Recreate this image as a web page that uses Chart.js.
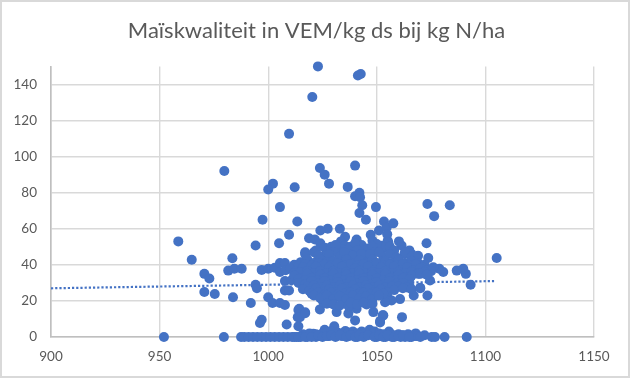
<!DOCTYPE html>
<html>
<head>
<meta charset="utf-8">
<style>
    html, body { margin: 0; padding: 0; background: #ffffff; }
    #frame { position: absolute; left: 0; top: 0; width: 630px; height: 378px; box-sizing: border-box; border: 2px solid #d9d9d9; }
    #maisChart { position: absolute; left: 0; top: 0; }
</style>
<script src="https://cdn.jsdelivr.net/npm/chart.js@4"></script>
</head>
<body>
<div id="frame"></div>
<canvas id="maisChart" width="633" height="381"></canvas>
<script>
const chartTitle = "Maïskwaliteit in VEM/kg ds bij kg N/ha";
const xTicks = [900, 950, 1000, 1050, 1100, 1150];
const yTicks = [0, 20, 40, 60, 80, 100, 120, 140];

// losse punten boven en rond de wolk
const outlierX = [1022.9, 1042.6, 1041.3, 1020.3, 1009.6, 979.8, 1023.8, 1026, 1028, 1040, 1036.6, 1002.2, 1000, 1012.2, 1042, 1040, 1042.3, 1043.3, 1042, 1045, 1049.6, 1005.4, 997.4, 1013.4, 1053.3, 1051, 1054.6, 1033, 1027.4, 1024, 1009.6, 1005, 1018.8, 1021.5, 1024, 1035.4, 1033.5, 1035.4, 1040.7, 1047.2, 1048, 1017, 1022, 1030.7, 1042.3, 1052.3, 1055];
const outlierY = [150, 145.8, 145, 133, 112.6, 92, 93.7, 90, 85, 95, 83.2, 85, 81.8, 83, 80, 78, 77.5, 73, 68.7, 65, 72, 72, 65, 64, 64, 59, 60.8, 60, 60, 59, 56.7, 52, 54.7, 54, 52, 55.6, 53, 50.6, 54, 56.7, 53.4, 47, 48, 48.3, 49, 50.6, 53.4];

const leftX = [958.6, 964.8, 970.6, 972.9, 970.6, 975.4, 983.5, 981.6, 984.4, 987.8, 983.8, 992, 994.2, 994.2, 994.8, 997, 996.2, 1000, 1002, 1005.4, 1007.7, 1008.5, 1013.9, 1013.6, 1013.9, 1017, 997, 1000, 1003, 1005.4, 1007.7, 1005.4, 1008, 1007.7, 1010.7, 1007.7, 1009.6, 1014.3, 1014.6, 1017];
const leftY = [53, 42.8, 35, 32.4, 24.9, 23.8, 43.7, 36.8, 37.8, 37.8, 22, 18.8, 50.7, 29, 27, 9.6, 7.8, 22, 18.8, 18.8, 17.7, 6.9, 6, 11, 15, 13.7, 37.2, 37.8, 38.4, 41, 41, 36, 37, 31, 31.5, 25.8, 25.8, 15.7, 11, 13.2];

const rightX = [1073.3, 1083.6, 1076.4, 1105.2, 1072.9, 1073.7, 1093.2, 1091, 1089.8, 1086.8, 1080.6, 1078.8, 1076, 1074.5, 1073.3, 1067, 1070, 1060.7, 1055, 1056.8, 1053.8, 1061.6, 1053, 1051.5, 1066, 1065, 1061.4, 1060.2, 1062.7, 1057.6, 1054.8, 1055.3, 1051.5, 1053.8, 1023.8, 1031.5, 1036.9, 1040, 1040.7, 1048.4, 1052.7, 1051.5, 1045.3, 1025.4, 1034.6];
const rightY = [73.7, 73, 67, 43.8, 52, 43.8, 29, 35, 37.8, 36.8, 36, 37.8, 38.6, 31.3, 23, 23, 27.3, 21, 22, 20.3, 19.3, 11, 12, 8.8, 46, 48, 50.7, 53, 46, 63, 57, 52.5, 48, 49.7, 15.3, 13.8, 13, 9.2, 15.7, 13.8, 12, 8, 18, 19.3, 19.3];

// onderste rij: kwaliteit nul of bijna nul
const zeroX = [952, 979.6, 987.5, 989, 991, 993, 995, 997, 999, 1001, 1003, 1005, 1007, 1009, 1011, 1013, 1015, 1016, 1018, 1020.8, 1022, 1024, 1026, 1028, 1030.4, 1032, 1034, 1035.5, 1037, 1039, 1041, 1043, 1045, 1046.7, 1048, 1050, 1052, 1054, 1055.6, 1057, 1059, 1061, 1063, 1064.4, 1066, 1067.9, 1072, 1075.3, 1076.8, 1081.2, 1091.4];
const zeroY = [0, 0, 0, 0, 0, 0, 0, 0, 0, 0, 0, 0, 0, 0, 0, 0, 0, 1.5, 0, 1.8, 0, 0.5, 4, 0.5, 6, 1, 0.5, 3.3, 0.5, 1, 0, 3, 2, 4, 1, 0, 0.5, 0, 3, 0, 0.5, 0, 0, 1.5, 0, 2, 1, 0, 0, 0, 0];
const lowX = [1017, 1019, 1022, 1025, 1027, 1029, 1032, 1034, 1037, 1039, 1041, 1044, 1047, 1049, 1051, 1053, 1056, 1058, 1060, 1062, 1065, 1068];
const lowY = [1, 2, 1.5, 2, 2.5, 3, 2.5, 2, 2.5, 3, 2, 2.5, 3, 3, 2, 1.5, 2, 1, 1.5, 1, 1, 0.5];
const fillX = [1012, 1014, 1017, 1020, 1023, 1025, 1027, 1029, 1031, 1033, 1036, 1038, 1040, 1042, 1044, 1046, 1049, 1051, 1053, 1055, 1058, 1060, 1062, 1065, 1069, 1070];
const fillY = [0, 0, 0, 0, 1, 0, 0.5, 1, 0, 1, 0, 1, 0, 1, 0, 1, 0, 1, 0, 1, 0, 0.5, 1, 0, 0.5, 0];

// de dichte wolk, per band van boven naar beneden
const band50X = [1026, 1029, 1034, 1038, 1043, 1046, 1050, 1056, 1031, 1040, 1048, 1058];
const band50Y = [49.5, 50, 48.5, 50, 51, 49, 51.5, 50, 51, 52, 50, 48];
const band45X = [1017, 1021, 1026, 1030, 1033, 1037, 1041, 1045, 1049, 1053, 1056, 1059, 1063, 1066, 1069, 1023, 1028, 1035, 1039, 1043, 1047, 1051];
const band45Y = [46, 47, 45, 47, 44.5, 46, 48, 45, 47, 44.5, 46, 44, 47, 44.5, 45, 45, 46, 47, 45, 46, 46, 47];
const band42X = [1012, 1015, 1018, 1021, 1024, 1027, 1030, 1033, 1036, 1039, 1042, 1045, 1048, 1051, 1054, 1057, 1060, 1063, 1066, 1069, 1072];
const band42Y = [40, 41.5, 43, 41, 43, 41.5, 42, 40.5, 43, 41, 42.5, 41, 43, 40.5, 42, 41, 43, 41, 42, 41, 40];
const band40X = [1014, 1017, 1020, 1023, 1026, 1029, 1032, 1035, 1038, 1041, 1044, 1047, 1050, 1053, 1056, 1059, 1062, 1065, 1068, 1071];
const band40Y = [39.5, 40.5, 39.5, 41, 40, 39.5, 41, 39.5, 40.5, 39.5, 40.5, 39.5, 41, 39.5, 40, 39.5, 40.5, 39.5, 40, 38.5];
const band38X = [1010, 1013, 1016, 1019, 1022, 1025, 1028, 1031, 1034, 1037, 1040, 1043, 1046, 1049, 1052, 1055, 1058, 1061, 1064, 1067, 1070, 1073, 1075];
const band38Y = [38, 36.5, 38.5, 37, 39, 37, 38.5, 37, 39, 36.5, 38, 37, 39, 37, 38.5, 37, 39, 37, 38.5, 37, 38, 37, 36.5];
const band36X = [1012, 1015, 1018, 1021, 1024, 1027, 1030, 1033, 1036, 1039, 1042, 1045, 1048, 1051, 1054, 1057, 1060, 1063, 1066, 1069, 1072];
const band36Y = [35.5, 36, 36.5, 35.5, 36.5, 35.5, 36.5, 35.5, 36, 35, 36.5, 35, 36, 35.5, 36.5, 35, 36, 35.5, 36, 35, 36];
const band34X = [1012, 1015, 1018, 1021, 1024, 1027, 1030, 1033, 1036, 1039, 1042, 1045, 1048, 1051, 1054, 1057, 1060, 1063, 1066, 1070, 1073];
const band34Y = [34, 32.5, 35, 33, 34.5, 33, 35, 33, 34.5, 33, 35, 33, 34.5, 33, 35, 33, 34.5, 33, 34, 35, 34.5];
const band32X = [1014, 1017, 1020, 1023, 1026, 1029, 1032, 1035, 1038, 1041, 1044, 1047, 1050, 1053, 1056, 1059, 1062, 1065];
const band32Y = [32, 31.5, 32.5, 31.5, 32.5, 31.5, 32.5, 31.5, 32.5, 31.5, 32.5, 31.5, 32.5, 31.5, 32.5, 31.5, 32.5, 32];
const band30X = [1014, 1017, 1020, 1023, 1026, 1029, 1032, 1035, 1038, 1041, 1044, 1047, 1050, 1053, 1056, 1059, 1062, 1065];
const band30Y = [30, 29, 31, 29.5, 31, 29, 30.5, 29, 31, 29.5, 31, 29, 30.5, 29, 31, 29.5, 30, 28.5];
const band28X = [1018, 1021, 1024, 1027, 1030, 1033, 1036, 1039, 1042, 1045, 1048, 1051, 1054, 1057, 1060, 1064];
const band28Y = [28, 28.5, 27.5, 28.5, 27.5, 28.5, 27.5, 28.5, 27.5, 28.5, 27.5, 28.5, 27.5, 28, 28, 27.5];
const band26X = [1016, 1019, 1022, 1025, 1028, 1031, 1034, 1037, 1040, 1043, 1046, 1049, 1052, 1055, 1058, 1062, 1066, 1070];
const band26Y = [26.5, 25.5, 27, 25, 26.5, 25, 27, 25, 26.5, 25, 27, 25, 26.5, 25, 26, 27, 26.5, 27];
const band24X = [1020, 1023, 1026, 1029, 1032, 1035, 1038, 1041, 1044, 1047, 1050, 1053];
const band24Y = [24, 24.5, 23.5, 24.5, 23.5, 24, 24.5, 23.5, 24.5, 23.5, 24.5, 24];
const band22X = [1021, 1024, 1027, 1030, 1033, 1036, 1039, 1042, 1045, 1048, 1051];
const band22Y = [23, 21.5, 23, 21, 22.5, 21, 23, 21.5, 22.5, 21, 23];
const band18X = [1027, 1030, 1033, 1037, 1038, 1041, 1044, 1048];
const band18Y = [18.5, 18, 17.5, 17, 19, 18, 19, 18.5];

const trendX = [900, 1104];
const trendY = [27, 31];

function toPoints(xs, ys) {
    return xs.map((x, i) => ({ x: x, y: ys[i] }));
}

const scatterData = [
    ...toPoints(outlierX, outlierY),
    ...toPoints(leftX, leftY),
    ...toPoints(rightX, rightY),
    ...toPoints(zeroX, zeroY),
    ...toPoints(lowX, lowY),
    ...toPoints(fillX, fillY),
    ...toPoints(band50X, band50Y),
    ...toPoints(band45X, band45Y),
    ...toPoints(band42X, band42Y),
    ...toPoints(band40X, band40Y),
    ...toPoints(band38X, band38Y),
    ...toPoints(band36X, band36Y),
    ...toPoints(band34X, band34Y),
    ...toPoints(band32X, band32Y),
    ...toPoints(band30X, band30Y),
    ...toPoints(band28X, band28Y),
    ...toPoints(band26X, band26Y),
    ...toPoints(band24X, band24Y),
    ...toPoints(band22X, band22Y),
    ...toPoints(band18X, band18Y),
];

const tickFont = { family: "Lato", size: 13.5 };

new Chart(document.getElementById("maisChart").getContext("2d"), {
    type: "scatter",
    data: {
        datasets: [{
            data: scatterData,
            backgroundColor: "#4472c4",
            borderWidth: 0,
            pointRadius: 5,
            clip: false,
            order: 1,
        }, {
            type: "line",
            data: toPoints(trendX, trendY),
            borderColor: "#4472c4",
            borderWidth: 2.2,
            borderDash: [2.2, 2],
            pointRadius: 0,
            fill: false,
            order: 2,
        }]
    },
    options: {
        responsive: false,
        animation: false,
        plugins: {
            legend: { display: false },
            title: {
                display: true,
                text: chartTitle,
                color: "#595959",
                font: { family: "Lato", size: 22, weight: "normal" },
                padding: { top: 18, bottom: 22 },
            },
        },
        scales: {
            x: {
                type: "linear",
                min: 900,
                max: 1150,
                afterBuildTicks: axis => { axis.ticks = xTicks.map(v => ({ value: v })); },
                afterFit: axis => { axis.height = 44; },
                grid: { color: "#d9d9d9", lineWidth: 1.4, drawTicks: false },
                border: { color: "#bfbfbf", width: 1.6 },
                ticks: { color: "#595959", font: tickFont, padding: 12, maxRotation: 0, callback: value => String(value) },
            },
            y: {
                min: 0,
                max: 150,
                afterBuildTicks: axis => { axis.ticks = yTicks.map(v => ({ value: v })); },
                afterFit: axis => { axis.width = 51; },
                grid: { color: "#d9d9d9", lineWidth: 1.4, drawTicks: false },
                border: { color: "#bfbfbf", width: 1.6 },
                ticks: { color: "#595959", font: tickFont, padding: 14 },
            },
            // lege as rechts, houdt de titel gecentreerd op het hele vlak
            spacer: {
                type: "linear",
                position: "right",
                afterFit: axis => { axis.width = 39; },
                grid: { display: false },
                border: { display: false },
                ticks: { display: false },
            },
        },
    },
});
</script>
</body>
</html>
